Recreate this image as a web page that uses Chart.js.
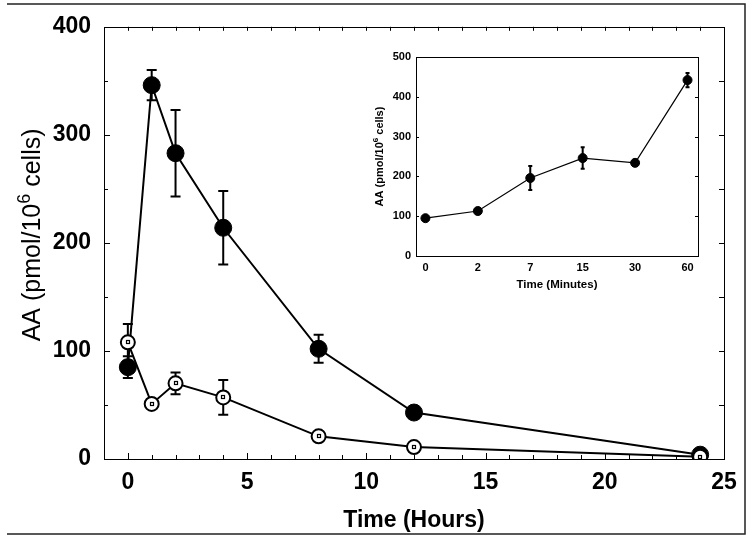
<!DOCTYPE html>
<html lang="en">
<head>
  <meta charset="UTF-8">
  <title>AA time course</title>
  <script src="https://cdn.jsdelivr.net/npm/chart.js"></script>
  <style>
    body { margin: 0; background: #fff; }
    #wrap { position: relative; width: 749px; height: 539px; }
    #mainChart { position: absolute; left: 0; top: 0; }
    #insetChart { position: absolute; left: 360px; top: 45px; }
  </style>
</head>
<body>
  <div id="wrap">
    <canvas id="mainChart" width="749" height="539"></canvas>
    <canvas id="insetChart" width="352" height="253"></canvas>
  </div>

  <script>
    // main panel (hours)
    const hours = [0, 1, 2, 4, 8, 12, 24];
    const filledAA = [85, 346, 283, 214, 102, 43, 4];
    const filledErr = [10, 14, 40, 34, 13, 4, 2];
    const openAA = [108, 51, 70, 57, 21, 11, 2];
    const openErr = [17, 3, 10, 16, 3, 2, 1];
    const hourTicks = [0, 5, 10, 15, 20, 25];

    // inset (minutes)
    const minuteLabels = ['0', '2', '7', '15', '30', '60'];
    const insetAA = [95, 113, 196, 246, 234, 442];
    const insetErr = [3, 4, 30, 27, 8, 18];

    const FONT = '"Liberation Sans", Arial, sans-serif';

    // error bars, drawn behind the markers
    const errorBars = {
      id: 'errorBars',
      beforeDatasetsDraw(chart, args, opts) {
        const ctx = chart.ctx;
        const y = chart.scales.y;
        ctx.save();
        ctx.strokeStyle = '#000';
        ctx.lineWidth = opts.width;
        chart.data.datasets.forEach((ds, i) => {
          if (!ds.errors) return;
          const meta = chart.getDatasetMeta(i);
          meta.data.forEach((pt, j) => {
            const v = ds.data[j].y, e = ds.errors[j];
            const top = y.getPixelForValue(v + e);
            const bot = y.getPixelForValue(v - e);
            ctx.beginPath();
            ctx.moveTo(pt.x, top); ctx.lineTo(pt.x, bot);
            ctx.moveTo(pt.x - opts.cap, top); ctx.lineTo(pt.x + opts.cap, top);
            ctx.moveTo(pt.x - opts.cap, bot); ctx.lineTo(pt.x + opts.cap, bot);
            ctx.stroke();
          });
        });
        ctx.restore();
      }
    };

    // little square in the middle of the open circles
    const centerDots = {
      id: 'centerDots',
      afterDatasetsDraw(chart) {
        const ctx = chart.ctx;
        ctx.save();
        ctx.strokeStyle = '#000';
        ctx.lineWidth = 1.2;
        chart.data.datasets.forEach((ds, i) => {
          if (!ds.centerDot) return;
          chart.getDatasetMeta(i).data.forEach(pt => {
            ctx.strokeRect(Math.round(pt.x) - 1.5, Math.round(pt.y) - 1.5, 3, 3);
          });
        });
        ctx.restore();
      }
    };

    // plot box with inward ticks
    const frameTicks = {
      id: 'frameTicks',
      beforeDatasetsDraw(chart, args, opts) {
        const ctx = chart.ctx;
        const a = chart.chartArea;
        const xs = chart.scales.x, ys = chart.scales.y;
        ctx.save();
        ctx.strokeStyle = '#000';
        ctx.lineWidth = 1;
        ctx.strokeRect(Math.round(a.left) + 0.5, Math.round(a.top) + 0.5,
          Math.round(a.right - a.left), Math.round(a.bottom - a.top));
        ctx.beginPath();
        (opts.bottom || []).forEach(([v, len]) => {
          const p = Math.round(xs.getPixelForValue(v)) + 0.5;
          ctx.moveTo(p, a.bottom); ctx.lineTo(p, a.bottom - len);
        });
        (opts.top || []).forEach(([v, len]) => {
          const p = Math.round(xs.getPixelForValue(v)) + 0.5;
          ctx.moveTo(p, a.top); ctx.lineTo(p, a.top + len);
        });
        (opts.left || []).forEach(([v, len]) => {
          const p = Math.round(ys.getPixelForValue(v)) + 0.5;
          ctx.moveTo(a.left, p); ctx.lineTo(a.left + len, p);
        });
        (opts.right || []).forEach(([v, len]) => {
          const p = Math.round(ys.getPixelForValue(v)) + 0.5;
          ctx.moveTo(a.right, p); ctx.lineTo(a.right - len, p);
        });
        ctx.stroke();
        ctx.restore();
      }
    };

    // axis titles (y title needs a superscript)
    const titles = {
      id: 'titles',
      afterDraw(chart, args, opts) {
        const ctx = chart.ctx;
        const a = chart.chartArea;
        ctx.save();
        ctx.fillStyle = '#000';
        ctx.textBaseline = 'middle';
        ctx.textAlign = 'center';
        ctx.font = opts.xFont;
        ctx.fillText(opts.xText, (a.left + a.right) / 2, a.bottom + opts.xOffset);

        ctx.translate(opts.yX, (a.top + a.bottom) / 2 + (opts.yShift || 0));
        ctx.rotate(-Math.PI / 2);
        ctx.textAlign = 'left';
        ctx.font = opts.yFont;
        const w1 = ctx.measureText(opts.yPre).width;
        const w3 = ctx.measureText(opts.yPost).width;
        ctx.font = opts.supFont;
        const w2 = ctx.measureText(opts.ySup).width;
        let x = -(w1 + w2 + w3) / 2;
        ctx.font = opts.yFont;
        ctx.fillText(opts.yPre, x, 0);
        x += w1;
        ctx.font = opts.supFont;
        ctx.fillText(opts.ySup, x, -opts.supRise);
        x += w2;
        ctx.font = opts.yFont;
        ctx.fillText(opts.yPost, x, 0);
        ctx.restore();
      }
    };

    // outer picture frame (top, right, bottom)
    const pageFrame = {
      id: 'pageFrame',
      afterDraw(chart) {
        const ctx = chart.ctx;
        ctx.save();
        ctx.strokeStyle = '#222';
        ctx.lineWidth = 1.5;
        ctx.beginPath();
        ctx.moveTo(7, 4); ctx.lineTo(745, 4); ctx.lineTo(745, 534); ctx.lineTo(7, 534);
        ctx.stroke();
        ctx.restore();
      }
    };

    const mainBottom = [], mainTop = [], mainLeft = [], mainRight = [];
    for (let h = 0; h <= 24; h++) {
      mainBottom.push([h, h % 5 === 0 ? 6 : 4]);
      mainTop.push([h, 4]);
    }
    for (let v = 50; v < 400; v += 50) {
      mainLeft.push([v, v % 100 === 0 ? 6 : 4]);
      mainRight.push([v, 5]);
    }

    new Chart(document.getElementById('mainChart'), {
      type: 'line',
      data: {
        datasets: [
          {
            label: 'open',
            data: hours.map((h, i) => ({ x: h, y: openAA[i] })),
            errors: openErr,
            centerDot: true,
            order: 0,
            borderColor: '#000', borderWidth: 2,
            pointRadius: 7, pointBackgroundColor: '#fff',
            pointBorderColor: '#000', pointBorderWidth: 2
          },
          {
            label: 'filled',
            data: hours.map((h, i) => ({ x: h, y: filledAA[i] })),
            errors: filledErr,
            order: 1,
            borderColor: '#000', borderWidth: 2,
            pointRadius: 8.5, pointBackgroundColor: '#000',
            pointBorderColor: '#000', pointBorderWidth: 1
          }
        ]
      },
      options: {
        responsive: false,
        animation: false,
        layout: { padding: { left: 0, top: 25, right: 25, bottom: 0 } },
        scales: {
          x: {
            type: 'linear', min: -1, max: 25,
            afterBuildTicks: s => { s.ticks = hourTicks.map(v => ({ value: v })); },
            afterFit: s => { s.height = 80; },
            grid: { display: false, drawTicks: false },
            border: { display: false },
            ticks: { padding: 10, color: '#000', font: { family: FONT, size: 23, weight: 'bold' } }
          },
          y: {
            min: 0, max: 400,
            ticks: { stepSize: 100, padding: 13, color: '#000', font: { family: FONT, size: 23, weight: 'bold' } },
            afterFit: s => { s.width = 104; },
            grid: { display: false, drawTicks: false },
            border: { display: false }
          }
        },
        plugins: {
          legend: { display: false },
          tooltip: { enabled: false },
          errorBars: { width: 2, cap: 5 },
          frameTicks: { bottom: mainBottom, top: mainTop, left: mainLeft, right: mainRight },
          titles: {
            xText: 'Time (Hours)', xFont: 'bold 23px ' + FONT, xOffset: 62,
            yPre: 'AA (pmol/10', ySup: '6', yPost: ' cells)', yX: 33, yShift: -8,
            yFont: '25px ' + FONT, supFont: '18px ' + FONT, supRise: 8
          }
        }
      },
      plugins: [frameTicks, errorBars, centerDots, titles, pageFrame]
    });

    const insetLeft = [], insetRight = [];
    for (let v = 100; v < 500; v += 100) {
      insetLeft.push([v, 3]);
      insetRight.push([v, 3]);
    }

    new Chart(document.getElementById('insetChart'), {
      type: 'line',
      data: {
        datasets: [{
          label: 'minutes',
          data: insetAA.map((v, i) => ({ x: i, y: v })),
          errors: insetErr,
          borderColor: '#000', borderWidth: 1.2,
          pointRadius: 4.5, pointBackgroundColor: '#000',
          pointBorderColor: '#000', pointBorderWidth: 1
        }]
      },
      options: {
        responsive: false,
        animation: false,
        layout: { padding: { left: 0, top: 12, right: 14, bottom: 0 } },
        scales: {
          x: {
            type: 'linear', min: -0.18, max: 5.2,
            afterBuildTicks: s => { s.ticks = minuteLabels.map((l, i) => ({ value: i })); },
            afterFit: s => { s.height = 42; },
            grid: { display: false, drawTicks: false },
            border: { display: false },
            ticks: {
              padding: 5, color: '#000',
              font: { family: FONT, size: 11, weight: 'bold' },
              callback: v => minuteLabels[Math.round(v)]
            }
          },
          y: {
            min: 0, max: 500,
            ticks: { stepSize: 100, padding: 5, color: '#000', font: { family: FONT, size: 11, weight: 'bold' } },
            afterFit: s => { s.width = 56; },
            grid: { display: false, drawTicks: false },
            border: { display: false }
          }
        },
        plugins: {
          legend: { display: false },
          tooltip: { enabled: false },
          errorBars: { width: 2, cap: 2 },
          frameTicks: { left: insetLeft, right: insetRight },
          titles: {
            xText: 'Time (Minutes)', xFont: 'bold 11.5px ' + FONT, xOffset: 29,
            yPre: 'AA (pmol/10', ySup: '6', yPost: ' cells)', yX: 20,
            yFont: 'bold 11px ' + FONT, supFont: 'bold 8px ' + FONT, supRise: 4
          }
        }
      },
      plugins: [frameTicks, errorBars, centerDots, titles]
    });
  </script>
</body>
</html>
